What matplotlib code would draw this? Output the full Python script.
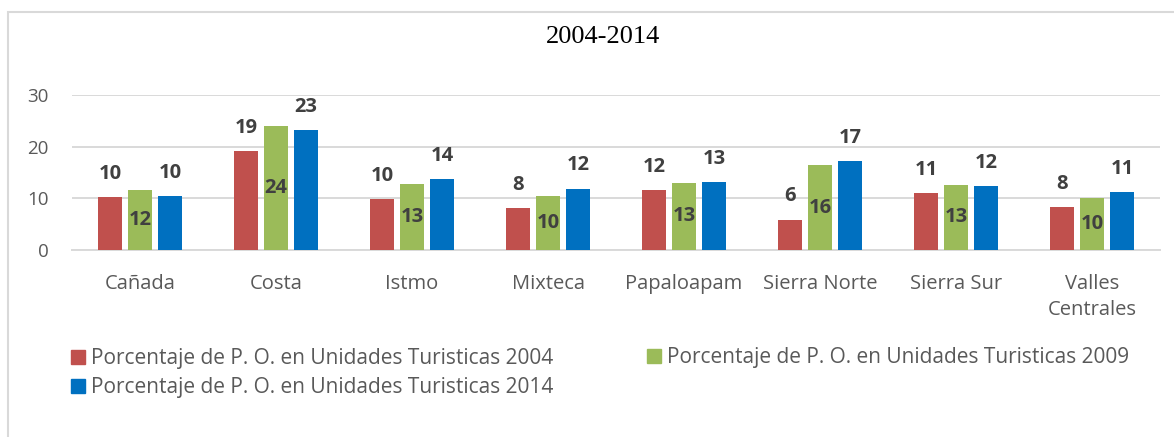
import matplotlib
matplotlib.use("Agg")
import matplotlib.pyplot as plt
import matplotlib.patches as mpatches
import numpy as np

REGIONS = ["Cañada", "Costa", "Istmo", "Mixteca", "Papaloapam",
           "Sierra Norte", "Sierra Sur", "Valles\nCentrales"]
PCT_2004 = [10.3, 19.1, 9.8, 8.1, 11.6, 5.9, 11.0, 8.3]
PCT_2009 = [11.6, 24.0, 12.7, 10.4, 13.0, 16.4, 12.6, 10.1]
PCT_2014 = [10.4, 23.2, 13.7, 11.9, 13.2, 17.2, 12.4, 11.2]
SERIES_NAMES = [
    "Porcentaje de P. O. en Unidades Turisticas 2004",
    "Porcentaje de P. O. en Unidades Turisticas 2009",
    "Porcentaje de P. O. en Unidades Turisticas 2014",
]
COLORS = ["#C0504D", "#9BBB59", "#0070C0"]
TEXT_GRAY = "#595959"
LABEL_GRAY = "#404040"
GRID_GRAY = "#D9D9D9"

plt.rcParams["font.family"] = ["Open Sans", "DejaVu Sans"]

W, H = 1174, 437
fig = plt.figure(figsize=(W / 100, H / 100), dpi=100)
ax = fig.add_axes([72 / W, 1 - 250 / H, (1160 - 72) / W, (250 - 95) / H])

x = np.arange(len(REGIONS))
width = 0.176
step = 0.221
series = [PCT_2004, PCT_2009, PCT_2014]
bars = []
for i, (vals, color) in enumerate(zip(series, COLORS)):
    b = ax.bar(x + (i - 1) * step, vals, width, color=color, zorder=3)
    bars.append(b)

# value labels: outside end for 2004/2014, centered inside for 2009
for i, (b, vals) in enumerate(zip(bars, series)):
    for rect, v in zip(b, vals):
        cx = rect.get_x() + rect.get_width() / 2
        if i == 1:
            ax.text(cx, v / 2, f"{v:.0f}", ha="center", va="center",
                    fontsize=14.5, fontweight="bold", color=LABEL_GRAY, zorder=4)
        else:
            ax.annotate(f"{v:.0f}", (cx, v), xytext=(0, 13), textcoords="offset points",
                        ha="center", va="baseline", fontsize=14.5,
                        fontweight="bold", color=LABEL_GRAY, zorder=4,
                        annotation_clip=False)

ax.set_xlim(-0.5, len(REGIONS) - 0.5)
ax.set_ylim(0, 30)
ax.set_yticks([0, 10, 20, 30])
ax.set_xticks(x)
ax.set_xticklabels(REGIONS, fontsize=14.5, color=TEXT_GRAY, linespacing=1.45)
ax.tick_params(axis="y", length=0, pad=17, labelsize=13.5, labelcolor=TEXT_GRAY)
ax.tick_params(axis="x", length=0, pad=17)
ax.grid(axis="y", color=GRID_GRAY, linewidth=1.4, zorder=0)
for side in ["top", "right", "left"]:
    ax.spines[side].set_visible(False)
ax.spines["bottom"].set_color(GRID_GRAY)
ax.spines["bottom"].set_linewidth(1.4)

fig.text(603 / W, 1 - 37 / H, "2004-2014", ha="center", va="center",
         fontsize=19, family="Liberation Serif", color="black")

handles = [mpatches.Patch(color=c) for c in COLORS]
leg_kw = dict(frameon=False, fontsize=15, labelcolor=TEXT_GRAY, borderpad=0,
              handlelength=0.68, handleheight=0.68, handletextpad=0.3,
              labelspacing=0.38, borderaxespad=0)
leg1 = fig.legend([handles[0], handles[2]], [SERIES_NAMES[0], SERIES_NAMES[2]],
                  loc="center left", bbox_to_anchor=(71 / W, 1 - 373 / H), **leg_kw)
leg2 = fig.legend([handles[1]], [SERIES_NAMES[1]],
                  loc="center left", bbox_to_anchor=(647 / W, 1 - 358 / H), **leg_kw)

# chart area border
fig.patches.append(mpatches.Rectangle((8 / W, -0.1), 1.2, 1 - 12 / H + 0.1,
                                      transform=fig.transFigure, fill=False,
                                      edgecolor=GRID_GRAY, linewidth=1.5))

fig.savefig("out.png", dpi=100)
